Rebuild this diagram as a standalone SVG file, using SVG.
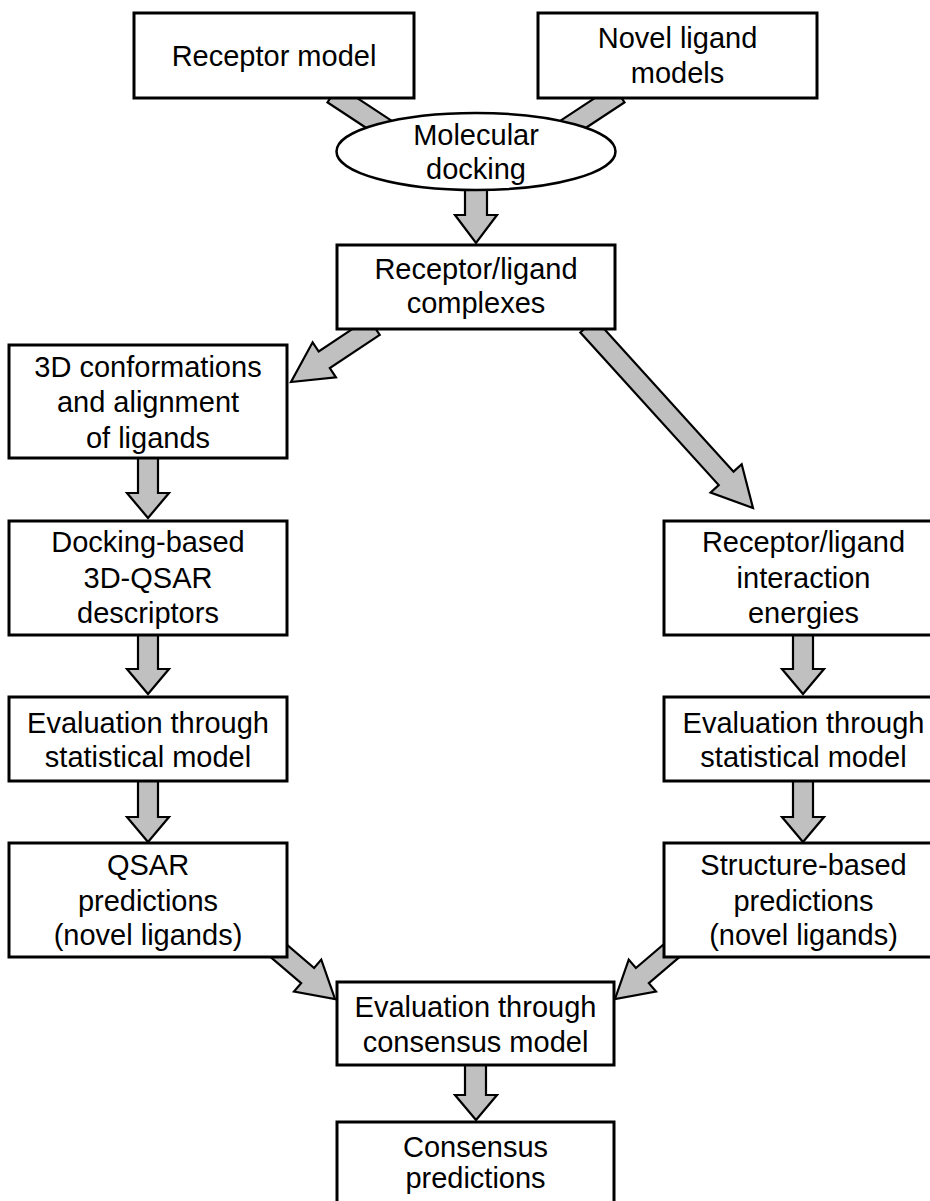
<svg xmlns="http://www.w3.org/2000/svg" width="930" height="1201" viewBox="0 0 930 1201">
<style>
.box{fill:#fff;stroke:#000;stroke-width:3}
.ell{fill:#fff;stroke:#000;stroke-width:2.5}
.arr{fill:#c0c0c0;stroke:#000;stroke-width:2.2;stroke-linejoin:miter}
text{font-family:"Liberation Sans",Arial,sans-serif;font-size:29px;fill:#000;text-anchor:middle}
</style>
<rect width="930" height="1201" fill="#fff"/>
<g id="connectors">
  <polygon class="arr" transform="translate(333,94) rotate(33.4)" points="0,-10 80,-10 80,10 0,10"/>
  <polygon class="arr" transform="translate(619,94) rotate(146.6)" points="0,-10 80,-10 80,10 0,10"/>
  <polygon class="arr" points="465,186 487,186 487,215 497,215 476,243 455,215 465,215"/>
  <polygon class="arr" transform="translate(291,382) rotate(146.3)" points="-100,-10 -40,-10 -40,-21 0,0 -40,21 -40,10 -100,10"/>
  <polygon class="arr" transform="translate(753,508) rotate(47.8)" points="-246,-10 -40,-10 -40,-21 0,0 -40,21 -40,10 -246,10"/>
  <polygon class="arr" points="138,456 158,456 158,493 169,493 148,518 127,493 138,493"/>
  <polygon class="arr" points="138,633 158,633 158,669 169,669 148,694 127,669 138,669"/>
  <polygon class="arr" points="138,779 158,779 158,817 169,817 148,842 127,817 138,817"/>
  <polygon class="arr" points="793,633 813,633 813,669 824,669 803,694 782,669 793,669"/>
  <polygon class="arr" points="793,779 813,779 813,817 824,817 803,842 782,817 793,817"/>
  <polygon class="arr" transform="translate(335,999) rotate(40.5)" points="-95,-10 -36,-10 -36,-21 0,0 -36,21 -36,10 -95,10"/>
  <polygon class="arr" transform="translate(615,999) rotate(139.5)" points="-95,-10 -36,-10 -36,-21 0,0 -36,21 -36,10 -95,10"/>
  <polygon class="arr" points="465,1063 486,1063 486,1095 497,1095 476,1120 455,1095 465,1095"/>
</g>
<g id="n_receptor">
  <rect class="box" x="134" y="13" width="280" height="85"/>
  <text x="274" y="66">Receptor model</text>
</g>
<g id="n_novel">
  <rect class="box" x="538" y="13" width="279" height="85"/>
  <text x="677.5" y="48">Novel ligand</text>
  <text x="677.5" y="83">models</text>
</g>
<g id="n_docking">
  <ellipse class="ell" cx="476" cy="151.5" rx="139.5" ry="38.5"/>
  <text x="476" y="145">Molecular</text>
  <text x="476" y="179">docking</text>
</g>
<g id="n_complexes">
  <rect class="box" x="337" y="245" width="278" height="84"/>
  <text x="476" y="279">Receptor/ligand</text>
  <text x="476" y="313">complexes</text>
</g>
<g id="n_conformations">
  <rect class="box" x="9" y="345" width="278" height="113"/>
  <text x="148" y="377">3D conformations</text>
  <text x="148" y="412">and alignment</text>
  <text x="148" y="448">of ligands</text>
</g>
<g id="n_descriptors">
  <rect class="box" x="9" y="521" width="278" height="114"/>
  <text x="148" y="552">Docking-based</text>
  <text x="148" y="588">3D-QSAR</text>
  <text x="148" y="623">descriptors</text>
</g>
<g id="n_eval_left">
  <rect class="box" x="9" y="697" width="278" height="84"/>
  <text x="148" y="733">Evaluation through</text>
  <text x="148" y="767">statistical model</text>
</g>
<g id="n_qsar">
  <rect class="box" x="9" y="843" width="278" height="114"/>
  <text x="148" y="875">QSAR</text>
  <text x="148" y="911">predictions</text>
  <text x="148" y="945">(novel ligands)</text>
</g>
<g id="n_energies">
  <rect class="box" x="664" y="521" width="279" height="114"/>
  <text x="803.5" y="552">Receptor/ligand</text>
  <text x="803.5" y="588">interaction</text>
  <text x="803.5" y="623">energies</text>
</g>
<g id="n_eval_right">
  <rect class="box" x="664" y="697" width="279" height="84"/>
  <text x="803.5" y="733">Evaluation through</text>
  <text x="803.5" y="767">statistical model</text>
</g>
<g id="n_structure">
  <rect class="box" x="664" y="843" width="279" height="114"/>
  <text x="803.5" y="875">Structure-based</text>
  <text x="803.5" y="911">predictions</text>
  <text x="803.5" y="945">(novel ligands)</text>
</g>
<g id="n_eval_consensus">
  <rect class="box" x="337" y="982" width="277" height="83"/>
  <text x="475.5" y="1017">Evaluation through</text>
  <text x="475.5" y="1052">consensus model</text>
</g>
<g id="n_consensus">
  <rect class="box" x="337" y="1122" width="277" height="100"/>
  <text x="475.5" y="1157">Consensus</text>
  <text x="475.5" y="1188">predictions</text>
</g>
</svg>
